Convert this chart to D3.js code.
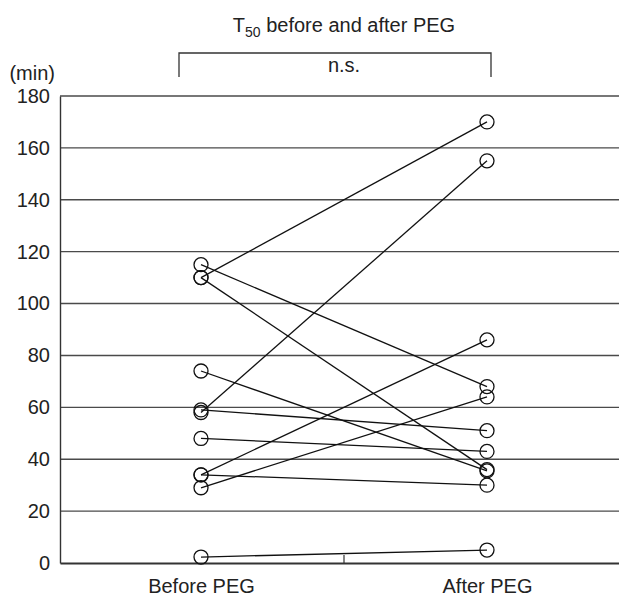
<!DOCTYPE html>
<html>
<head>
<meta charset="utf-8">
<script src="https://cdn.jsdelivr.net/npm/d3@7"></script>
<style>
  body { margin: 0; background: #fff; }
  svg { display: block; font-family: "Liberation Sans", Arial, Helvetica, sans-serif; }
</style>
</head>
<body>
<div id="chart"></div>
<script>
// data (T50 in minutes)
var groups = ["Before PEG", "After PEG"];
var beforeValues = [110, 115, 110, 58, 74, 59, 48, 34, 34, 29, 2.3];
var afterValues = [170, 68, 36, 155, 35.5, 51, 43, 86, 30, 64, 5];
var yTicks = [0, 20, 40, 60, 80, 100, 120, 140, 160, 180];

var svgWidth = 619;
var svgHeight = 599;
var margin = {top: 96, right: -9, bottom: 36, left: 60};
var width = svgWidth - margin.left - margin.right;
var height = svgHeight - margin.top - margin.bottom;

var svg = d3.select("#chart")
    .append("svg")
    .attr("width", svgWidth)
    .attr("height", svgHeight);

var chart = svg.append("g")
    .attr("transform", "translate(" + margin.left + "," + margin.top + ")");

var x = d3.scalePoint().domain(groups).range([0, width]).padding(0.493);
var y = d3.scaleLinear().domain([0, 180]).range([height, 0]);

// horizontal grid lines
chart.selectAll(".grid")
    .data(yTicks.filter(function(d) { return d > 0; }))
    .enter()
    .append("line")
    .attr("class", "grid")
    .attr("x1", 0)
    .attr("x2", width)
    .attr("y1", function(d) { return y(d); })
    .attr("y2", function(d) { return y(d); })
    .attr("stroke", "#4a4a4a")
    .attr("stroke-width", 1.4);

// left axis
var leftAxis = d3.axisLeft(y).tickValues(yTicks).tickSize(0).tickSizeOuter(0).tickPadding(10);
var gy = chart.append("g").call(leftAxis);
gy.select(".domain").attr("stroke", "#333").attr("stroke-width", 1.4);
gy.selectAll("text").attr("font-size", "20px").attr("fill", "#222")
    .attr("font-family", "'Liberation Sans', Arial, sans-serif");

// bottom axis
var bottomAxis = d3.axisBottom(x).tickSize(0).tickSizeOuter(0).tickPadding(16);
var gx = chart.append("g")
    .attr("transform", "translate(0," + height + ")")
    .call(bottomAxis);
gx.select(".domain").attr("stroke", "#333").attr("stroke-width", 2);
gx.selectAll("text").attr("font-size", "20px").attr("fill", "#222")
    .attr("font-family", "'Liberation Sans', Arial, sans-serif");

// small tick between the two groups
var midX = (x(groups[0]) + x(groups[1])) / 2;
chart.append("line")
    .attr("x1", midX).attr("x2", midX)
    .attr("y1", height).attr("y2", height - 8)
    .attr("stroke", "#333")
    .attr("stroke-width", 1.2);

// paired lines
var pairs = beforeValues.map(function(b, i) { return {before: b, after: afterValues[i]}; });

chart.selectAll(".pair")
    .data(pairs)
    .enter()
    .append("line")
    .attr("class", "pair")
    .attr("x1", x(groups[0]))
    .attr("x2", x(groups[1]))
    .attr("y1", function(d) { return y(d.before); })
    .attr("y2", function(d) { return y(d.after); })
    .attr("stroke", "#111")
    .attr("stroke-width", 1.3);

// circles
chart.selectAll(".cb")
    .data(beforeValues)
    .enter()
    .append("circle")
    .attr("cx", x(groups[0]))
    .attr("cy", function(d) { return y(d); })
    .attr("r", 7)
    .attr("fill", "none")
    .attr("stroke", "#111")
    .attr("stroke-width", 1.3);

chart.selectAll(".ca")
    .data(afterValues)
    .enter()
    .append("circle")
    .attr("cx", x(groups[1]))
    .attr("cy", function(d) { return y(d); })
    .attr("r", 7)
    .attr("fill", "none")
    .attr("stroke", "#111")
    .attr("stroke-width", 1.3);

// unit label
svg.append("text")
    .attr("x", 55)
    .attr("y", 80)
    .attr("text-anchor", "end")
    .attr("font-size", "20px")
    .attr("fill", "#222")
    .text("(min)");

// significance bracket
var bx0 = margin.left + x(groups[0]) - 22;
var bx1 = margin.left + x(groups[1]) + 4;
svg.append("path")
    .attr("d", "M" + bx0 + ",77V53H" + bx1 + "V77")
    .attr("fill", "none")
    .attr("stroke", "#333")
    .attr("stroke-width", 1.3);

svg.append("text")
    .attr("x", margin.left + midX)
    .attr("y", 72)
    .attr("text-anchor", "middle")
    .attr("font-size", "20px")
    .attr("fill", "#222")
    .text("n.s.");

// title with subscript
var title = svg.append("text")
    .attr("x", margin.left + midX)
    .attr("y", 32)
    .attr("text-anchor", "middle")
    .attr("font-size", "20px")
    .attr("fill", "#222");
title.append("tspan").text("T");
title.append("tspan").attr("font-size", "14px").attr("dy", 5).text("50");
title.append("tspan").attr("dy", -5).text(" before and after PEG");
</script>
</body>
</html>
